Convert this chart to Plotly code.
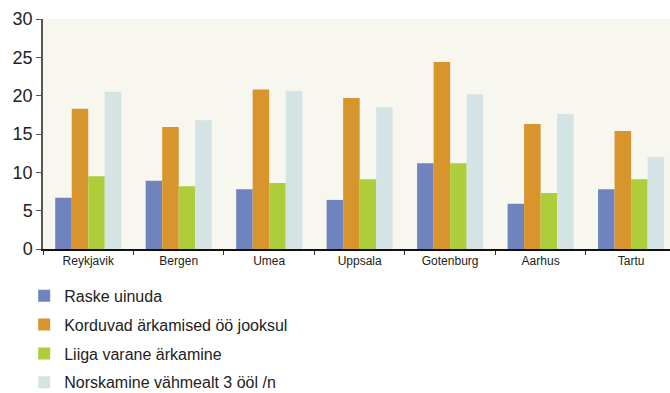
import plotly.graph_objects as go

cities = ["Reykjavik", "Bergen", "Umea", "Uppsala", "Gotenburg", "Aarhus", "Tartu"]
series_names = [
    "Raske uinuda",
    "Korduvad ärkamised öö jooksul",
    "Liiga varane ärkamine",
    "Norskamine vähmealt 3 ööl /n",
]
raske = [6.7, 8.9, 7.8, 6.4, 11.2, 5.9, 7.8]
korduvad = [18.3, 15.9, 20.8, 19.7, 24.4, 16.3, 15.4]
liiga = [9.5, 8.2, 8.6, 9.1, 11.2, 7.3, 9.1]
norskamine = [20.5, 16.8, 20.6, 18.5, 20.2, 17.6, 12.0]
y_ticks = [0, 5, 10, 15, 20, 25, 30]

colors = ["#6F84BF", "#D8952E", "#AECD3A", "#D4E3E3"]
values = [raske, korduvad, liiga, norskamine]

fig = go.Figure()
for i, (name, vals, col) in enumerate(zip(series_names, values, colors)):
    fig.add_trace(go.Bar(x=cities, y=vals, name=name, marker_color=col,
                         marker_line_width=0, legendgroup=f"g{i}"))

fig.update_layout(
    width=670, height=393,
    margin=dict(l=43, r=0, t=19, b=144, autoexpand=False),
    paper_bgcolor="white",
    plot_bgcolor="#F7F6EF",
    barmode="group",
    bargap=0.27,
    bargroupgap=0,
    font=dict(family="Liberation Sans, Arial, sans-serif", color="#222222"),
    showlegend=True,
    legend=dict(
        orientation="v",
        x=-0.03, xanchor="left",
        y=-0.13, yanchor="top",
        font=dict(size=16, color="#222222"),
        tracegroupgap=5,
        bgcolor="rgba(0,0,0,0)",
    ),
)
fig.update_xaxes(
    range=[-0.5, 6.43],
    showline=True, linecolor="#111111", linewidth=1.5,
    ticks="outside", tickson="boundaries", ticklen=4, tickcolor="#333333",
    tickfont=dict(size=12, color="#222222"),
    showgrid=False,
)
fig.update_yaxes(
    range=[0, 30],
    tickvals=y_ticks,
    showline=True, linecolor="#555555", linewidth=1.5,
    ticks="outside", ticklen=5, tickcolor="#555555",
    tickfont=dict(size=18, color="#222222"),
    showgrid=False, zeroline=False,
)

fig.write_html("out.html")
